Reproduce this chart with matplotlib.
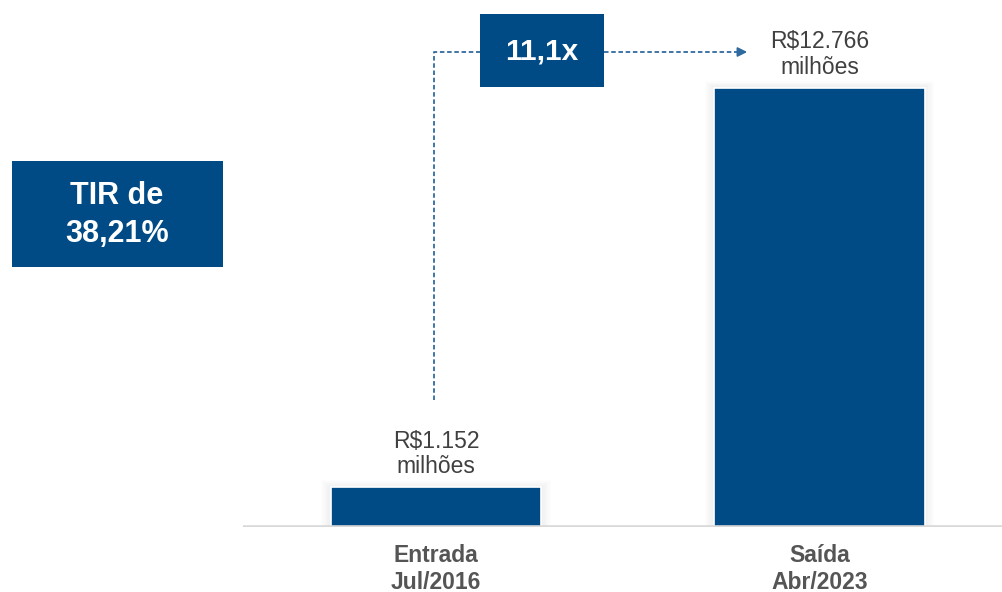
import matplotlib.pyplot as plt
from matplotlib.patches import Rectangle

plt.rcParams['font.family'] = ['Liberation Sans', 'DejaVu Sans']

# Data
categories = ['Entrada\nJul/2016', 'Saída\nAbr/2023']
values = [1152, 12766]
value_labels = ['R$1.152\nmilhões', 'R$12.766\nmilhões']
multiple_label = '11,1x'
tir_label = 'TIR de\n38,21%'

blue = '#004B85'
W, H = 1002, 592

fig = plt.figure(figsize=(W / 100, H / 100), dpi=100)
# axes placed so the baseline sits at y=527px and the tall bar top at y=88px
ax = fig.add_axes([243 / W, 65 / H, 759 / W, 527 / H])
ax.set_xlim(-0.503, 1.476)
ax.set_ylim(0, values[1] * 527 / 439)
ax.axis('off')

x = [0, 1]
bw = 0.548

# soft shadows around bars
for xi, v in zip(x, values):
    for k in range(1, 9):
        dx = 0.0032 * k
        dy = 26 * k
        ax.add_patch(Rectangle((xi - bw / 2 - dx, 0), bw + 2 * dx, v + dy,
                               facecolor='#000000', alpha=0.009, lw=0, zorder=1))

ax.bar(x, values, width=bw, color=blue, edgecolor='white', linewidth=1.2, zorder=3)

# baseline
ax.axhline(0, color='#d9d9d9', lw=2.6, zorder=4)

# value labels
for xi, v, lab in zip(x, values, value_labels):
    ax.text(xi, v + 260, lab, ha='center', va='bottom', fontsize=16.5,
            color='#404040', linespacing=1.15, zorder=5)

# category labels
for xi, lab in zip(x, categories):
    ax.text(xi, -500, lab, ha='center', va='top', fontsize=16.5,
            fontweight='bold', color='#555555', linespacing=1.2, zorder=5)

# dashed connector (figure pixel coords)
def px(xp, yp):
    return xp / W, 1 - yp / H

dash_color = '#2F6A9F'
fig.add_artist(plt.Line2D(*zip(px(434, 400), px(434, 52), px(480, 52)),
                          color=dash_color, lw=1.3, ls=(0, (2.5, 1.5))))
fig.add_artist(plt.Line2D(*zip(px(604, 52), px(742, 52)),
                          color=dash_color, lw=1.3, ls=(0, (2.5, 1.5))))
ax.annotate('', xy=px(750, 52), xytext=px(738, 52), xycoords='figure fraction',
            arrowprops=dict(arrowstyle='-|>', color=dash_color, lw=1.3,
                            mutation_scale=14))

# multiple box
x0, y0 = px(480, 87)
fig.add_artist(Rectangle((x0, y0), 124 / W, 73 / H, transform=fig.transFigure,
                         facecolor=blue, edgecolor='none'))
fig.text(542 / W, 1 - 51 / H, multiple_label, ha='center', va='center',
         fontsize=21.5, fontweight='bold', color='white')

# TIR box
x0, y0 = px(12, 267)
fig.add_artist(Rectangle((x0, y0), 211 / W, 106 / H, transform=fig.transFigure,
                         facecolor=blue, edgecolor='none'))
fig.text(117 / W, 1 - 215 / H, tir_label, ha='center', va='center',
         fontsize=22, fontweight='bold', color='white', linespacing=1.35)

fig.savefig('out.png', dpi=100)
